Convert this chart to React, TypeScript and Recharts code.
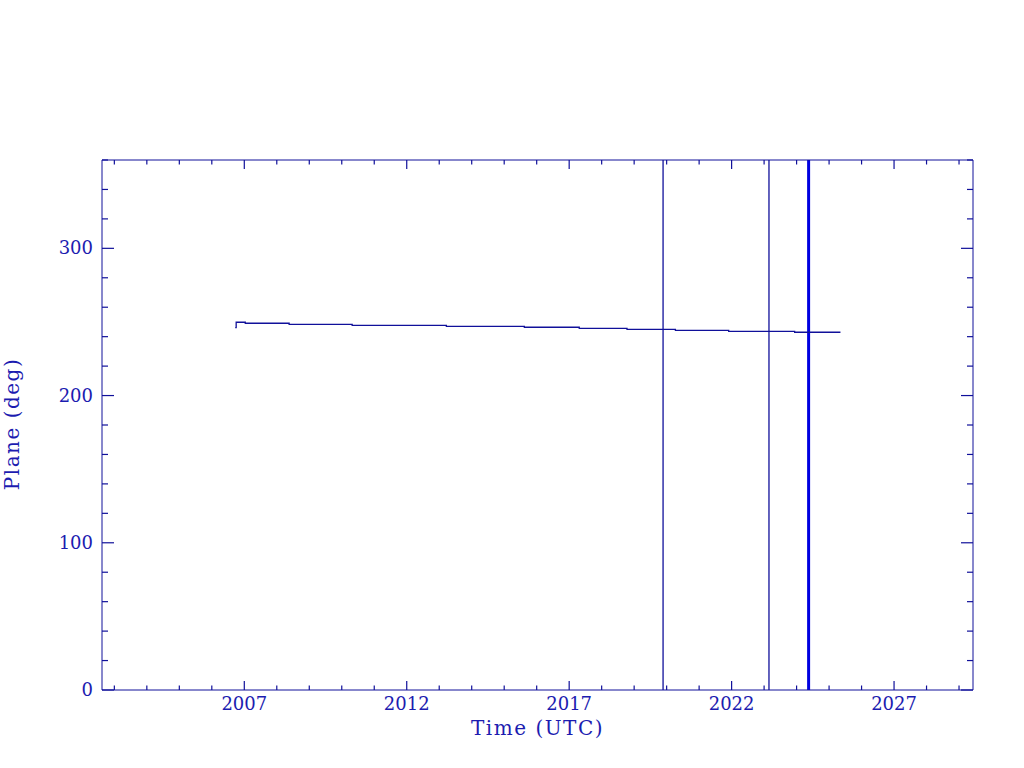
import { LineChart, Line, XAxis, YAxis, ReferenceLine, Label } from "recharts";

// step series: decimal year vs orbital plane angle (deg)
const years = [
  2006.72, 2006.75, 2007.03, 2008.38, 2010.32, 2013.22, 2015.62, 2017.31,
  2018.78, 2020.27, 2021.91, 2023.94, 2025.35,
];
const plane = [
  246.1, 249.8, 249.1, 248.4, 247.7, 247.0, 246.4, 245.7, 245.0, 244.3, 243.6,
  243.0, 243.0,
];

// vertical markers (decimal year)
const markers = [2019.89, 2023.15];
const boldMarker = 2024.37;

const xMajorTicks = [2007, 2012, 2017, 2022, 2027];
const xTicks = [
  2003, 2004, 2005, 2006, 2007, 2008, 2009, 2010, 2011, 2012, 2013, 2014, 2015,
  2016, 2017, 2018, 2019, 2020, 2021, 2022, 2023, 2024, 2025, 2026, 2027, 2028,
  2029,
];
const yMajorTicks = [0, 100, 200, 300];
const yTicks = [
  0, 20, 40, 60, 80, 100, 120, 140, 160, 180, 200, 220, 240, 260, 280, 300, 320,
  340, 360,
];

const xDomain = [2002.62, 2029.43];
const yDomain = [0, 360];

const AXIS = "#10109a";
const TEXT = "#1c1cb0";
const FONT = "DejaVu Serif";

const data = years.map((t, i) => ({ t, plane: plane[i] }));

function XTitle() {
  return (
    <text
      x={537.5}
      y={735}
      textAnchor="middle"
      fontFamily={FONT}
      fontSize={20}
      letterSpacing={1.5}
      fill={TEXT}
    >
      Time (UTC)
    </text>
  );
}

function YTitle() {
  return (
    <text
      x={19}
      y={424}
      transform="rotate(-90, 19, 424)"
      textAnchor="middle"
      fontFamily={FONT}
      fontSize={20}
      letterSpacing={1.5}
      fill={TEXT}
    >
      Plane (deg)
    </text>
  );
}

// inward tick marks (long on majors) plus labels where wanted
function makeTick(side: string, majors: number[], labels: boolean) {
  return (props: any) => {
    const { x, y, payload } = props;
    const major = majors.includes(payload.value);
    const horiz = side === "bottom" || side === "top";
    const len = horiz ? (major ? 9 : 4.5) : major ? 12 : 6;
    let x2 = x;
    let y2 = y;
    if (side === "bottom") y2 = y - len;
    if (side === "top") y2 = y + len;
    if (side === "left") x2 = x + len;
    if (side === "right") x2 = x - len;
    return (
      <g>
        <line x1={x} y1={y} x2={x2} y2={y2} stroke={AXIS} strokeWidth={1.2} />
        {labels && major && side === "bottom" && (
          <text x={x} y={y + 20} textAnchor="middle" fontFamily={FONT} fontSize={18} fill={TEXT}>
            {payload.value}
          </text>
        )}
        {labels && major && side === "left" && (
          <text x={x - 9} y={y + 6} textAnchor="end" fontFamily={FONT} fontSize={18} fill={TEXT}>
            {payload.value}
          </text>
        )}
      </g>
    );
  };
}

export default function App() {
  return (
    <div style={{ position: "absolute", left: 0, top: 0, background: "#fff" }}>
      <LineChart
        width={1024}
        height={768}
        data={data}
        margin={{ top: 159, right: 50, bottom: 77, left: 101 }}
      >
        <XAxis
          xAxisId="x"
          dataKey="t"
          type="number"
          domain={xDomain}
          allowDataOverflow
          ticks={xTicks}
          interval={0}
          height={1}
          tickSize={0}
          tickMargin={0}
          tickLine={false}
          tick={makeTick("bottom", xMajorTicks, true)}
          stroke={AXIS}
        >
          <Label content={<XTitle />} />
        </XAxis>
        <XAxis
          xAxisId="xt"
          orientation="top"
          dataKey="t"
          type="number"
          domain={xDomain}
          allowDataOverflow
          ticks={xTicks}
          interval={0}
          height={1}
          tickSize={0}
          tickMargin={0}
          tickLine={false}
          tick={makeTick("top", xMajorTicks, false)}
          stroke={AXIS}
        />
        <YAxis
          yAxisId="y"
          type="number"
          domain={yDomain}
          allowDataOverflow
          ticks={yTicks}
          interval={0}
          width={1}
          tickSize={0}
          tickMargin={0}
          tickLine={false}
          tick={makeTick("left", yMajorTicks, true)}
          stroke={AXIS}
        >
          <Label content={<YTitle />} />
        </YAxis>
        <YAxis
          yAxisId="yr"
          orientation="right"
          type="number"
          domain={yDomain}
          allowDataOverflow
          ticks={yTicks}
          interval={0}
          width={1}
          tickSize={0}
          tickMargin={0}
          tickLine={false}
          tick={makeTick("right", yMajorTicks, false)}
          stroke={AXIS}
        />

        {markers.map((m) => (
          <ReferenceLine
            key={m}
            x={m}
            xAxisId="x"
            yAxisId="y"
            stroke={AXIS}
            strokeWidth={1.3}
          />
        ))}
        <ReferenceLine
          x={boldMarker}
          xAxisId="x"
          yAxisId="y"
          stroke="#0000e0"
          strokeWidth={3}
        />

        <Line
          xAxisId="x"
          yAxisId="y"
          dataKey="plane"
          type="stepAfter"
          stroke={AXIS}
          strokeWidth={1.3}
          dot={false}
          isAnimationActive={false}
        />
      </LineChart>
    </div>
  );
}
